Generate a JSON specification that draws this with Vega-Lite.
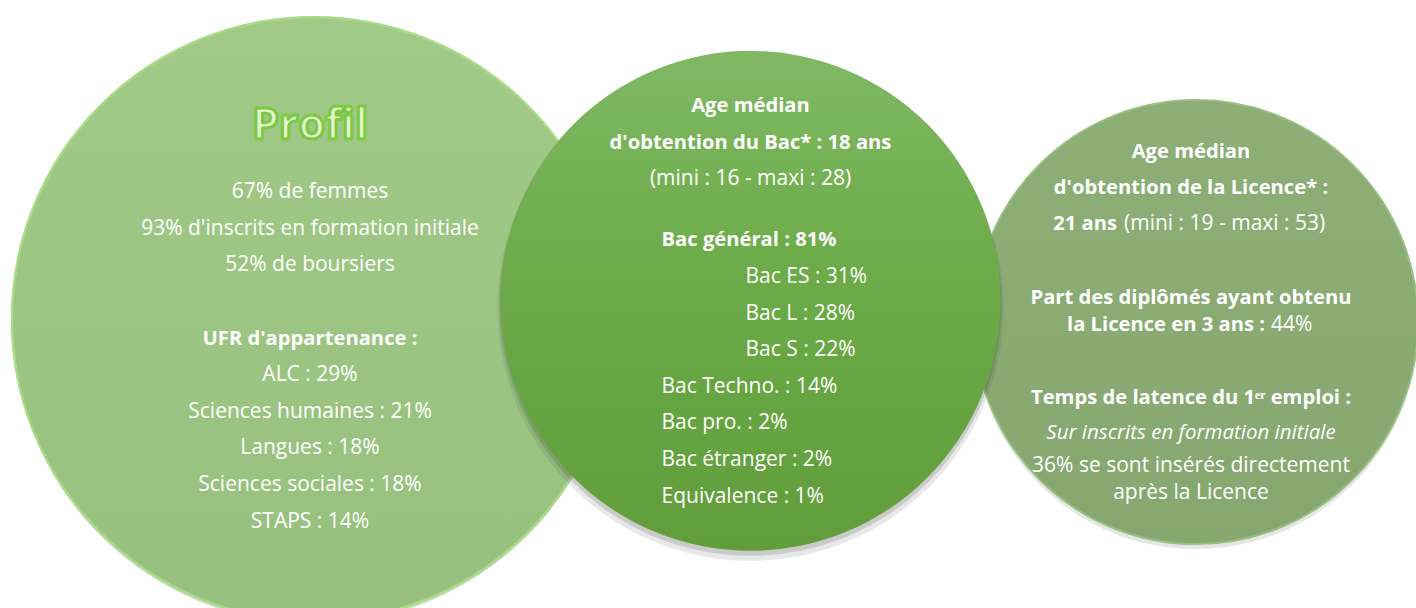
{
  "$schema": "https://vega.github.io/schema/vega-lite/v6.json",
  "width": 1416,
  "height": 608,
  "padding": 0,
  "autosize": {"type": "none"},
  "background": "white",
  "config": {"view": {"stroke": null}, "font": "Open Sans"},
  "datasets": {
    "circles": [
      {"panel": "Profil", "line": 8.72},
      {"panel": "Bac", "line": 8.22},
      {"panel": "Licence", "line": 8.8}
    ],
    "lines": [
      {"panel": "Profil", "line": 3.44, "role": "title", "text": "Profil"},
      {"panel": "Profil", "line": 5.25, "role": "body", "text": "67% de femmes"},
      {"panel": "Profil", "line": 6.25, "role": "body", "text": "93% d'inscrits en formation initiale"},
      {"panel": "Profil", "line": 7.25, "role": "body", "text": "52% de boursiers"},
      {"panel": "Profil", "line": 9.25, "role": "head", "text": "UFR d'appartenance :"},
      {"panel": "Profil", "line": 10.25, "role": "body", "text": "ALC : 29%"},
      {"panel": "Profil", "line": 11.25, "role": "body", "text": "Sciences humaines : 21%"},
      {"panel": "Profil", "line": 12.25, "role": "body", "text": "Langues : 18%"},
      {"panel": "Profil", "line": 13.25, "role": "body", "text": "Sciences sociales : 18%"},
      {"panel": "Profil", "line": 14.25, "role": "body", "text": "STAPS : 14%"},
      {"panel": "Bac", "line": 2.9, "role": "head", "text": "Age médian"},
      {"panel": "Bac", "line": 3.9, "role": "head", "text": "d'obtention du Bac* : 18 ans"},
      {"panel": "Bac", "line": 4.9, "role": "body", "text": "(mini : 16 - maxi : 28)"},
      {"panel": "Bac", "line": 6.57, "role": "itemHead", "text": "Bac général : 81%"},
      {"panel": "Bac", "line": 7.57, "role": "sub", "text": "Bac ES : 31%"},
      {"panel": "Bac", "line": 8.57, "role": "sub", "text": "Bac L : 28%"},
      {"panel": "Bac", "line": 9.57, "role": "sub", "text": "Bac S : 22%"},
      {"panel": "Bac", "line": 10.57, "role": "item", "text": "Bac Techno. : 14%"},
      {"panel": "Bac", "line": 11.57, "role": "item", "text": "Bac pro. : 2%"},
      {"panel": "Bac", "line": 12.57, "role": "item", "text": "Bac étranger : 2%"},
      {"panel": "Bac", "line": 13.57, "role": "item", "text": "Equivalence : 1%"},
      {"panel": "Licence", "line": 4.15, "role": "head", "text": "Age médian"},
      {"panel": "Licence", "line": 5.14, "role": "head", "text": "d'obtention de la Licence* :"},
      {"panel": "Licence", "line": 6.13, "role": "ageLabel", "text": "21 ans"},
      {"panel": "Licence", "line": 6.13, "role": "ageRange", "text": "(mini : 19 - maxi : 53)"},
      {"panel": "Licence", "line": 8.14, "role": "head", "text": "Part des diplômés ayant obtenu"},
      {"panel": "Licence", "line": 8.88, "role": "shareLabel", "text": "la Licence en 3 ans :"},
      {"panel": "Licence", "line": 8.88, "role": "shareValue", "text": "44%"},
      {"panel": "Licence", "line": 10.87, "role": "head", "text": "Temps de latence du 1ᵉʳ emploi :"},
      {"panel": "Licence", "line": 11.83, "role": "note", "text": "Sur inscrits en formation initiale"},
      {"panel": "Licence", "line": 12.73, "role": "body", "text": "36% se sont insérés directement"},
      {"panel": "Licence", "line": 13.47, "role": "body", "text": "après la Licence"}
    ]
  },
  "encoding": {
    "x": {"field": "panel", "type": "nominal", "scale": {"type": "point", "domain": ["Profil", "Bac", "Licence"], "range": [310, 1191], "padding": 0}, "axis": null},
    "y": {"field": "line", "type": "quantitative", "scale": {"domain": [0, 16.612], "reverse": true, "nice": false, "zero": false}, "axis": null}
  },
  "layer": [
    {
      "data": {"name": "circles"},
      "transform": [{"filter": {"field": "panel", "equal": "Profil"}}],
      "mark": {"type": "circle", "size": 364816, "opacity": 1, "xOffset": 4, "yOffset": 3, "fill": "#8a9c80", "fillOpacity": 0.35}
    },
    {
      "data": {"name": "circles"},
      "transform": [{"filter": {"field": "panel", "equal": "Profil"}}],
      "mark": {"type": "circle", "size": 364816, "opacity": 1, "xOffset": 4, "stroke": "#a8db86", "strokeWidth": 2.5,
        "fill": {"gradient": "linear", "x1": 0, "y1": 0, "x2": 0, "y2": 1, "stops": [{"offset": 0, "color": "#a1ca88"}, {"offset": 1, "color": "#97c07e"}]}}
    },
    {
      "data": {"name": "circles"},
      "transform": [{"filter": {"field": "panel", "equal": "Licence"}}],
      "mark": {"type": "circle", "size": 197136, "opacity": 1, "xOffset": 5, "yOffset": 5, "fill": "#555555", "fillOpacity": 0.15}
    },
    {
      "data": {"name": "circles"},
      "transform": [{"filter": {"field": "panel", "equal": "Licence"}}],
      "mark": {"type": "circle", "size": 197136, "opacity": 1, "xOffset": 5, "stroke": "#97bf80", "strokeWidth": 2,
        "fill": {"gradient": "linear", "x1": 0, "y1": 0, "x2": 0, "y2": 1, "stops": [{"offset": 0, "color": "#8dae77"}, {"offset": 1, "color": "#86a770"}]}}
    },
    {
      "data": {"name": "circles"},
      "transform": [{"filter": {"field": "panel", "equal": "Bac"}}],
      "mark": {"type": "circle", "size": 256036, "opacity": 1, "yOffset": 7, "fill": "#444444", "fillOpacity": 0.12}
    },
    {
      "data": {"name": "circles"},
      "transform": [{"filter": {"field": "panel", "equal": "Bac"}}],
      "mark": {"type": "circle", "size": 252004, "opacity": 1, "yOffset": 4, "fill": "#444444", "fillOpacity": 0.18}
    },
    {
      "data": {"name": "circles"},
      "transform": [{"filter": {"field": "panel", "equal": "Bac"}}],
      "mark": {"type": "circle", "size": 250000, "opacity": 1,
        "fill": {"gradient": "linear", "x1": 0, "y1": 0, "x2": 0, "y2": 1, "stops": [{"offset": 0, "color": "#80b864"}, {"offset": 0.45, "color": "#6cab48"}, {"offset": 1, "color": "#619d3b"}]}}
    },
    {
      "data": {"name": "lines"},
      "transform": [{"filter": {"field": "role", "equal": "title"}}],
      "mark": {"type": "text", "fontSize": 43, "fontWeight": "bold", "align": "center", "baseline": "middle", "fill": "#e4f5d0", "stroke": "#7cc943", "strokeWidth": 3, "strokeJoin": "round"},
      "encoding": {"text": {"field": "text"}}
    },
    {
      "data": {"name": "lines"},
      "transform": [{"filter": {"field": "role", "equal": "head"}}],
      "mark": {"type": "text", "fontSize": 20.2, "fontWeight": "bold", "align": "center", "baseline": "middle", "fill": "#ffffff"},
      "encoding": {"text": {"field": "text"}}
    },
    {
      "data": {"name": "lines"},
      "transform": [{"filter": {"field": "role", "equal": "body"}}],
      "mark": {"type": "text", "fontSize": 21, "align": "center", "baseline": "middle", "fill": "#ffffff"},
      "encoding": {"text": {"field": "text"}}
    },
    {
      "data": {"name": "lines"},
      "transform": [{"filter": {"field": "role", "equal": "note"}}],
      "mark": {"type": "text", "fontSize": 20.5, "fontStyle": "italic", "align": "center", "baseline": "middle", "fill": "#ffffff"},
      "encoding": {"text": {"field": "text"}}
    },
    {
      "data": {"name": "lines"},
      "transform": [{"filter": {"field": "role", "equal": "itemHead"}}],
      "mark": {"type": "text", "fontSize": 20.2, "fontWeight": "bold", "align": "left", "baseline": "middle", "dx": -89, "fill": "#ffffff"},
      "encoding": {"text": {"field": "text"}}
    },
    {
      "data": {"name": "lines"},
      "transform": [{"filter": {"field": "role", "equal": "item"}}],
      "mark": {"type": "text", "fontSize": 21, "align": "left", "baseline": "middle", "dx": -89, "fill": "#ffffff"},
      "encoding": {"text": {"field": "text"}}
    },
    {
      "data": {"name": "lines"},
      "transform": [{"filter": {"field": "role", "equal": "sub"}}],
      "mark": {"type": "text", "fontSize": 21, "align": "left", "baseline": "middle", "dx": -5, "fill": "#ffffff"},
      "encoding": {"text": {"field": "text"}}
    },
    {
      "data": {"name": "lines"},
      "transform": [{"filter": {"field": "role", "equal": "ageLabel"}}],
      "mark": {"type": "text", "fontSize": 20.2, "fontWeight": "bold", "align": "right", "baseline": "middle", "dx": -74, "fill": "#ffffff"},
      "encoding": {"text": {"field": "text"}}
    },
    {
      "data": {"name": "lines"},
      "transform": [{"filter": {"field": "role", "equal": "ageRange"}}],
      "mark": {"type": "text", "fontSize": 21, "align": "left", "baseline": "middle", "dx": -67, "fill": "#ffffff"},
      "encoding": {"text": {"field": "text"}}
    },
    {
      "data": {"name": "lines"},
      "transform": [{"filter": {"field": "role", "equal": "shareLabel"}}],
      "mark": {"type": "text", "fontSize": 20.2, "fontWeight": "bold", "align": "right", "baseline": "middle", "dx": 74, "fill": "#ffffff"},
      "encoding": {"text": {"field": "text"}}
    },
    {
      "data": {"name": "lines"},
      "transform": [{"filter": {"field": "role", "equal": "shareValue"}}],
      "mark": {"type": "text", "fontSize": 21, "align": "left", "baseline": "middle", "dx": 80, "fill": "#ffffff"},
      "encoding": {"text": {"field": "text"}}
    }
  ]
}
